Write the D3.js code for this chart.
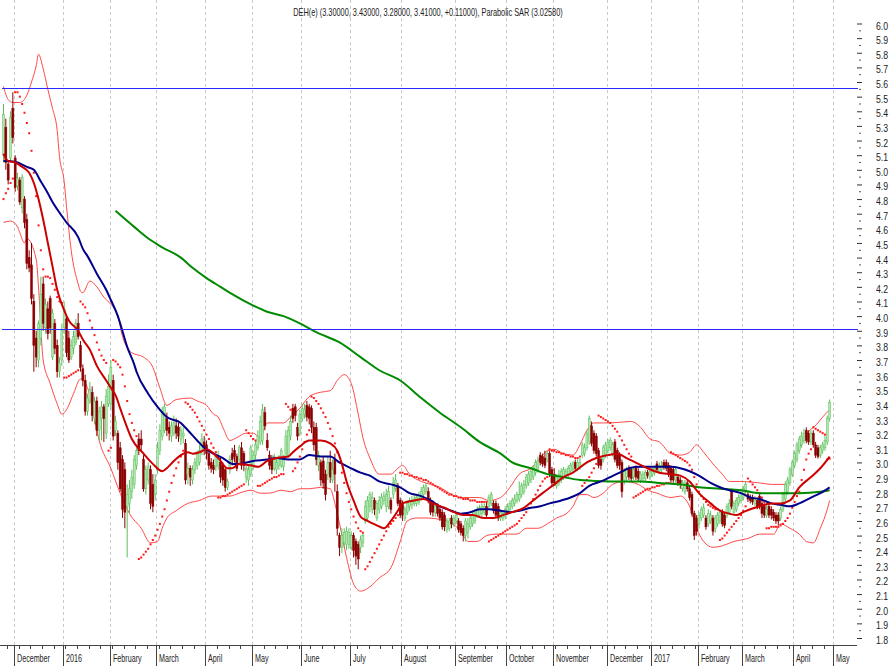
<!DOCTYPE html>
<html><head><meta charset="utf-8">
<script src="https://cdn.jsdelivr.net/npm/d3@7"></script>
<style>
html,body{margin:0;padding:0;background:#fff;}
svg{display:block;}
text{font-family:'Liberation Sans Narrow','Arial Narrow','Liberation Sans',Arial,sans-serif;fill:#222;}
</style></head>
<body>
<svg id="c" width="890" height="666"></svg>
<script>
// ---------- DATA ----------
const title = "DEH(e) (3.30000, 3.43000, 3.28000, 3.41000, +0.11000), Parabolic SAR (3.02580)";
const monthLabels = ["December","2016","February","March","April","May","June","July","August","September","October","November","December","2017","February","March","April","May"];
const monthStart  = [5,26,46,66,87,107,128,149,171,194,216,236,259,278,298,317,339,356];
const yTicks = d3.range(18, 61).map(d => d / 10);
const levels = [5.56, 3.91];

// daily bars: [open, high, low, close]
const ohlc = [
[5.10,5.45,5.05,5.38],[5.29,5.35,5.00,5.05],[5.04,5.06,4.90,4.93],[5.08,5.40,5.05,5.36],[5.42,5.53,5.18,5.22],
[5.08,5.10,4.85,4.88],[4.89,4.98,4.86,4.94],[4.93,4.95,4.76,4.78],[4.74,4.97,4.70,4.95],[4.80,4.82,4.60,4.64],
[4.66,4.70,4.32,4.36],[4.40,4.45,4.30,4.33],[4.35,4.50,4.08,4.12],[4.10,4.15,3.62,3.80],[3.85,3.90,3.65,3.72],
[3.70,3.97,3.65,3.95],[3.85,4.27,3.80,4.15],[4.22,4.27,3.90,3.95],[3.92,4.12,3.88,4.08],[4.05,4.10,3.84,3.88],
[4.12,4.14,3.88,3.92],[3.72,4.05,3.70,4.02],[3.95,3.98,3.74,3.78],[3.80,3.84,3.58,3.62],[3.62,3.72,3.58,3.68],
[3.70,3.95,3.66,3.90],[3.92,4.10,3.88,4.05],[3.98,4.00,3.72,3.75],[3.85,3.90,3.68,3.70],[3.72,3.84,3.70,3.80],
[3.78,3.90,3.74,3.86],[3.82,3.98,3.80,3.95],[3.95,4.02,3.84,3.86],[3.80,3.83,3.62,3.65],[3.64,3.67,3.52,3.56],
[3.56,3.60,3.32,3.35],[3.35,3.47,3.32,3.44],[3.42,3.55,3.40,3.50],[3.48,3.52,3.28,3.32],[3.30,3.45,3.26,3.42],
[3.42,3.45,3.18,3.22],[3.22,3.38,3.15,3.35],[3.30,3.42,3.15,3.38],[3.38,3.40,3.14,3.30],[3.20,3.50,3.16,3.45],
[3.40,3.60,3.38,3.52],[3.40,3.70,3.36,3.65],[3.56,3.60,3.15,3.18],[3.22,3.32,3.18,3.28],[3.20,3.22,2.95,3.00],
[3.10,3.14,2.80,2.82],[3.02,3.05,2.62,2.68],[2.95,3.00,2.55,2.66],[2.70,2.85,2.35,2.78],[2.72,2.88,2.65,2.82],
[2.80,2.95,2.75,2.90],[2.85,3.05,2.82,3.02],[2.98,3.12,2.95,3.08],[3.16,3.20,3.05,3.08],[3.16,3.22,3.08,3.12],
[3.02,3.05,2.80,2.82],[2.82,2.98,2.78,2.95],[2.88,3.00,2.85,2.97],[2.95,2.98,2.68,2.72],[2.85,2.92,2.66,2.70],
[2.78,2.92,2.74,2.88],[2.95,3.14,2.92,3.10],[3.08,3.26,3.05,3.22],[3.18,3.38,3.15,3.35],[3.22,3.40,3.20,3.38],
[3.30,3.34,3.18,3.22],[3.24,3.28,3.15,3.20],[3.18,3.28,3.14,3.25],[3.20,3.32,3.18,3.27],[3.25,3.30,3.16,3.20],
[3.24,3.27,3.14,3.18],[3.16,3.25,3.12,3.22],[3.18,3.24,3.13,3.20],[3.13,3.16,2.85,2.88],[2.92,3.00,2.85,2.96],
[2.96,2.98,2.84,2.90],[2.88,2.98,2.85,2.95],[2.95,3.03,2.92,3.00],[2.98,3.08,2.95,3.06],[3.00,3.12,2.98,3.08],
[3.08,3.20,3.05,3.16],[3.14,3.18,3.05,3.10],[3.12,3.15,3.02,3.06],[3.06,3.08,2.95,2.98],[3.00,3.03,2.93,2.96],
[2.98,3.02,2.92,2.95],[2.97,3.06,2.94,3.04],[2.98,3.08,2.95,3.05],[3.00,3.03,2.86,2.90],[2.98,3.00,2.84,2.88],
[2.95,2.97,2.80,2.83],[2.83,2.89,2.81,2.87],[2.95,3.05,2.92,3.02],[3.06,3.10,2.98,3.02],[3.08,3.12,3.00,3.04],
[3.04,3.06,2.94,2.96],[3.02,3.12,2.98,3.10],[3.10,3.14,2.95,2.98],[3.06,3.08,2.94,2.98],[2.90,2.98,2.86,2.96],
[2.88,2.98,2.84,2.95],[2.92,3.12,2.90,3.10],[2.98,3.08,2.95,3.05],[3.05,3.15,3.02,3.12],[3.10,3.22,3.08,3.18],
[3.14,3.32,3.12,3.28],[3.15,3.40,3.12,3.36],[3.34,3.38,3.22,3.25],[3.15,3.20,3.08,3.10],[3.05,3.08,2.95,2.98],
[3.03,3.05,2.92,2.95],[2.96,3.06,2.94,3.04],[2.95,3.03,2.92,3.00],[2.98,3.05,2.95,3.03],[2.98,3.10,2.96,3.08],
[2.97,3.05,2.94,3.02],[3.04,3.22,3.02,3.18],[3.05,3.25,3.03,3.22],[3.18,3.32,3.15,3.28],[3.37,3.40,3.27,3.30],
[3.38,3.40,3.28,3.32],[3.24,3.27,3.15,3.18],[3.20,3.36,3.18,3.33],[3.30,3.40,3.28,3.37],[3.33,3.40,3.30,3.36],
[3.39,3.42,3.28,3.31],[3.38,3.40,3.26,3.30],[3.37,3.39,3.20,3.24],[3.24,3.28,3.08,3.12],[3.24,3.27,2.98,3.02],
[2.98,3.08,2.94,3.05],[3.00,3.02,2.84,2.88],[3.01,3.04,2.82,2.86],[2.92,2.95,2.74,2.78],[2.92,3.04,2.88,3.00],
[3.00,3.08,2.86,2.90],[2.88,3.02,2.86,2.95],[3.02,3.06,2.80,2.92],[2.80,2.85,2.50,2.55],[2.50,2.52,2.36,2.42],
[2.42,2.55,2.38,2.50],[2.45,2.55,2.42,2.52],[2.44,2.56,2.40,2.53],[2.44,2.55,2.41,2.52],[2.42,2.53,2.40,2.50],
[2.50,2.52,2.35,2.40],[2.46,2.48,2.30,2.36],[2.44,2.46,2.27,2.34],[2.42,2.50,2.38,2.47],[2.45,2.52,2.42,2.50],
[2.60,2.74,2.58,2.70],[2.62,2.77,2.60,2.74],[2.70,2.80,2.66,2.78],[2.68,2.80,2.65,2.76],[2.74,2.76,2.64,2.68],
[2.62,2.74,2.60,2.72],[2.68,2.77,2.65,2.74],[2.70,2.79,2.68,2.76],[2.74,2.80,2.71,2.77],[2.70,2.82,2.66,2.78],
[2.70,2.84,2.68,2.80],[2.74,2.76,2.65,2.68],[2.78,2.90,2.75,2.86],[2.82,2.92,2.80,2.88],[2.84,2.86,2.70,2.72],
[2.74,2.76,2.62,2.64],[2.72,2.74,2.60,2.64],[2.62,2.70,2.60,2.68],[2.66,2.74,2.64,2.72],[2.70,2.76,2.67,2.74],
[2.71,2.77,2.68,2.74],[2.72,2.78,2.70,2.75],[2.72,2.78,2.70,2.76],[2.73,2.80,2.71,2.77],[2.76,2.83,2.74,2.80],
[2.78,2.85,2.76,2.83],[2.80,2.86,2.78,2.84],[2.80,2.83,2.72,2.74],[2.74,2.76,2.64,2.66],[2.72,2.74,2.63,2.66],
[2.66,2.72,2.63,2.70],[2.70,2.72,2.63,2.65],[2.68,2.70,2.60,2.62],[2.66,2.68,2.54,2.56],[2.64,2.66,2.53,2.56],
[2.54,2.62,2.52,2.60],[2.55,2.62,2.53,2.60],[2.62,2.64,2.55,2.58],[2.58,2.64,2.56,2.62],[2.60,2.66,2.58,2.64],
[2.60,2.62,2.52,2.54],[2.58,2.60,2.50,2.52],[2.55,2.57,2.46,2.50],[2.50,2.62,2.46,2.60],[2.52,2.62,2.48,2.58],
[2.56,2.64,2.54,2.62],[2.58,2.66,2.56,2.64],[2.60,2.68,2.58,2.66],[2.64,2.70,2.62,2.68],[2.64,2.71,2.62,2.69],
[2.65,2.72,2.63,2.70],[2.66,2.72,2.64,2.70],[2.70,2.73,2.62,2.64],[2.70,2.78,2.68,2.76],[2.72,2.80,2.70,2.78],
[2.72,2.74,2.65,2.67],[2.72,2.74,2.62,2.64],[2.70,2.72,2.60,2.62],[2.62,2.68,2.60,2.66],[2.62,2.67,2.60,2.65],
[2.63,2.70,2.61,2.68],[2.66,2.72,2.64,2.70],[2.68,2.74,2.66,2.72],[2.70,2.76,2.68,2.74],[2.72,2.78,2.70,2.75],
[2.74,2.80,2.72,2.78],[2.75,2.87,2.73,2.78],[2.78,2.86,2.76,2.84],[2.80,2.88,2.78,2.85],[2.84,2.92,2.82,2.90],
[2.86,2.94,2.84,2.92],[2.88,2.96,2.86,2.94],[2.90,2.98,2.88,2.96],[2.93,3.02,2.91,3.00],[2.95,3.04,2.93,3.01],
[3.05,3.07,2.98,3.00],[3.04,3.06,2.97,2.99],[3.03,3.08,2.96,2.98],[3.02,3.08,3.00,3.06],[3.06,3.08,2.90,2.92],
[2.95,2.97,2.84,2.86],[2.92,2.96,2.84,2.86],[2.84,2.92,2.82,2.90],[2.86,2.95,2.84,2.92],[2.88,2.96,2.86,2.94],
[2.90,2.97,2.88,2.95],[2.91,2.96,2.89,2.94],[2.92,2.98,2.90,2.96],[2.94,3.00,2.92,2.98],[2.95,3.01,2.93,2.99],
[3.00,3.02,2.94,2.96],[2.96,3.02,2.94,3.00],[2.97,3.03,2.95,3.00],[3.05,3.14,3.03,3.12],[3.06,3.13,3.04,3.10],
[3.10,3.22,3.08,3.20],[3.14,3.32,3.12,3.30],[3.25,3.28,3.11,3.13],[3.20,3.22,3.06,3.08],[3.18,3.20,3.04,3.06],
[3.08,3.10,2.96,2.98],[3.02,3.04,2.95,2.98],[3.02,3.12,3.00,3.10],[3.05,3.14,3.03,3.12],[3.08,3.16,3.06,3.14],
[3.10,3.17,3.08,3.15],[3.06,3.14,3.04,3.12],[3.14,3.16,3.00,3.02],[3.08,3.10,2.96,2.98],[3.05,3.07,2.95,2.98],
[3.00,3.02,2.76,2.80],[2.88,2.96,2.85,2.94],[2.90,2.97,2.87,2.95],[2.96,2.98,2.88,2.90],[2.95,2.97,2.87,2.89],
[2.90,2.97,2.88,2.95],[2.96,2.98,2.88,2.90],[2.94,2.96,2.87,2.89],[2.88,2.94,2.86,2.92],[2.89,2.94,2.87,2.92],
[2.89,2.95,2.87,2.93],[2.93,2.95,2.89,2.91],[2.90,2.96,2.88,2.94],[2.92,2.97,2.90,2.95],[2.93,2.98,2.91,2.96],
[2.99,3.01,2.93,2.95],[2.94,3.00,2.92,2.98],[2.95,3.01,2.93,2.98],[3.00,3.02,2.95,2.97],[3.00,3.02,2.94,2.96],
[2.98,3.00,2.90,2.92],[2.96,2.98,2.86,2.88],[2.95,2.97,2.86,2.88],[2.88,2.97,2.86,2.95],[2.90,2.92,2.84,2.86],
[2.88,2.90,2.82,2.85],[2.82,2.88,2.80,2.86],[2.80,2.88,2.78,2.86],[2.86,2.88,2.80,2.82],[2.82,2.84,2.74,2.76],
[2.78,2.80,2.63,2.65],[2.65,2.67,2.47,2.50],[2.62,2.64,2.50,2.53],[2.58,2.66,2.55,2.64],[2.62,2.70,2.60,2.68],
[2.64,2.72,2.62,2.69],[2.62,2.64,2.54,2.56],[2.58,2.68,2.56,2.65],[2.60,2.67,2.58,2.64],[2.62,2.64,2.50,2.53],
[2.55,2.64,2.52,2.62],[2.58,2.66,2.56,2.64],[2.60,2.68,2.58,2.66],[2.66,2.68,2.56,2.58],[2.64,2.66,2.55,2.57],
[2.64,2.72,2.62,2.70],[2.66,2.75,2.64,2.72],[2.80,2.82,2.68,2.70],[2.66,2.74,2.64,2.72],[2.68,2.76,2.66,2.74],
[2.72,2.78,2.70,2.76],[2.74,2.82,2.72,2.79],[2.76,2.84,2.74,2.82],[2.80,2.87,2.78,2.85],[2.78,2.80,2.73,2.75],
[2.76,2.78,2.72,2.74],[2.76,2.78,2.71,2.73],[2.72,2.77,2.70,2.75],[2.74,2.76,2.68,2.70],[2.77,2.79,2.68,2.70],
[2.72,2.74,2.62,2.65],[2.70,2.72,2.62,2.64],[2.64,2.74,2.62,2.68],[2.70,2.72,2.62,2.64],[2.68,2.70,2.61,2.64],
[2.66,2.68,2.60,2.62],[2.64,2.66,2.58,2.60],[2.64,2.66,2.57,2.60],[2.62,2.70,2.60,2.68],[2.68,2.80,2.66,2.78],
[2.75,2.87,2.73,2.85],[2.80,2.90,2.78,2.88],[2.86,2.97,2.84,2.95],[2.92,3.02,2.90,3.00],[2.98,3.08,2.96,3.06],
[3.02,3.14,3.00,3.12],[3.08,3.18,3.06,3.16],[3.12,3.21,3.10,3.18],[3.15,3.23,3.13,3.20],[3.22,3.24,3.13,3.15],
[3.20,3.22,3.12,3.14],[3.14,3.22,3.12,3.20],[3.20,3.22,3.10,3.12],[3.12,3.14,3.03,3.05],[3.10,3.12,3.026,3.04],
[3.05,3.12,3.03,3.10],[3.08,3.14,3.06,3.12],[3.10,3.18,3.08,3.15],[3.14,3.32,3.12,3.30],[3.30,3.43,3.28,3.41]
];

// parabolic SAR: [first bar index, values...]
const sarSegments = [
[0,  [4.80,4.84,4.87,4.91,4.94]],
[5,  [5.53,5.53,5.50,5.45,5.39,5.32,5.25,5.13,4.98,4.82,4.62,4.45,4.32,4.27,4.27,4.26,4.22,4.18,4.13,4.10,4.09]],
[26, [3.58,3.58,3.59,3.60,3.61,3.62,3.63]],
[33, [4.10,4.08,4.06,4.02,3.97,3.92,3.87,3.82,3.77,3.73,3.70,3.68]],
[45, [3.08,3.10]],
[47, [3.70,3.69,3.67,3.65,3.60,3.52,3.42,3.33,3.27,3.22,3.18]],
[58, [2.34,2.35,2.37,2.39,2.41,2.44,2.47,2.50,2.54,2.58,2.63,2.68,2.74,2.80,2.86,2.91,2.96,3.00,3.04,3.08]],
[78, [3.41,3.40,3.38,3.36,3.34,3.31,3.28,3.25,3.22,3.19,3.16,3.13,3.10,3.07]],
[92, [2.76,2.76,2.77,2.77,2.78,2.79,2.80,2.81,2.82,2.83,2.84,2.85]],
[104,[3.22,3.20,3.18,3.16,3.15]],
[109,[2.84,2.84,2.85,2.86,2.87,2.88,2.89,2.90,2.90,2.91,2.92,2.92]],
[121,[3.40,3.38,3.36]],
[124,[2.94,2.96,3.00,3.04,3.09,3.14,3.19,3.22]],
[132,[3.45,3.44,3.42,3.40,3.37,3.34,3.31,3.27,3.23,3.18,3.13,3.07,3.00,2.93,2.86,2.79,2.73,2.68,2.63,2.59,2.55,2.53,2.52]],
[155,[2.27,2.29,2.32,2.35,2.38,2.41,2.44,2.47,2.50,2.53,2.56,2.58,2.60,2.62,2.64]],
[170,[2.93,2.93,2.92,2.92,2.91,2.91,2.90,2.90,2.89,2.89,2.88,2.88,2.87,2.86,2.85,2.84,2.83,2.82,2.81,2.80,2.79,2.78,2.78,2.77,2.77,2.76,2.76,2.75,2.75,2.75,2.74,2.74,2.74,2.73,2.73,2.73,2.73,2.73]],
[208,[2.46,2.47,2.48,2.49,2.50,2.51,2.52,2.53,2.54,2.55,2.56,2.57,2.58]],
[221,[2.60,2.62,2.64,2.66,2.69,2.72,2.75,2.78,2.81,2.84,2.87,2.89,2.90]],
[234,[3.09,3.08,3.08,3.07,3.07,3.06,3.06,3.05,3.05,3.04,3.04,3.03,3.03,3.04]],
[248,[2.84,2.86,2.88,2.90,2.93,2.96,2.99]],
[255,[3.32,3.31,3.30,3.29,3.28,3.27,3.25,3.23,3.21,3.18,3.15,3.12,3.09,3.06,3.04]],
[270,[2.76,2.77,2.78,2.79,2.80,2.81,2.82,2.82,2.83,2.83,2.84,2.84,2.85,2.85,2.86,2.86]],
[286,[3.07,3.06,3.05,3.04,3.03,3.02,3.01,3.00,2.98,2.95,2.90,2.85,2.80,2.77,2.75,2.73,2.71,2.70,2.69,2.68,2.68]],
[307,[2.47,2.48,2.50,2.52,2.54,2.56,2.58,2.60,2.62,2.64,2.67,2.70]],
[319,[2.89,2.87,2.85,2.83,2.81,2.79,2.76,2.73]],
[327,[2.55,2.55,2.56,2.56,2.56,2.56,2.57,2.58,2.60,2.62,2.65,2.69,2.73,2.77,2.80,2.88,2.95,3.02,3.06,3.09]],
[347,[3.24,3.23,3.22,3.21,3.20,3.19]],
[353,[3.02,3.026]]
];

// indicator lines: [bar index, value]
const redMA = [[0,5.11],[2,5.06],[5,5.05],[8,5.02],[11,4.98],[13,4.91],[15,4.80],[17,4.66],[19,4.50],[21,4.34],[23,4.18],[26,4.04],[28,3.97],[32,3.90],[34,3.84],[37,3.77],[40,3.66],[44,3.56],[46,3.51],[48,3.46],[50,3.37],[52,3.28],[55,3.16],[60,3.06],[64,2.99],[68,2.94],[70,2.96],[73,3.01],[76,3.05],[79,3.07],[81,3.06],[84,3.07],[87,3.09],[92,3.03],[96,2.96],[98,2.96],[101,2.99],[106,2.98],[109,2.97],[113,3.01],[117,3.03],[122,3.04],[124,3.07],[127,3.11],[131,3.15],[136,3.15],[140,3.13],[143,3.08],[145,2.99],[147,2.87],[150,2.74],[153,2.63],[156,2.60],[160,2.57],[163,2.55],[166,2.60],[169,2.67],[171,2.72],[176,2.74],[180,2.75],[184,2.72],[189,2.69],[193,2.66],[197,2.64],[201,2.64],[206,2.62],[210,2.62],[214,2.64],[218,2.66],[223,2.69],[227,2.74],[231,2.79],[236,2.85],[240,2.90],[244,2.93],[250,3.00],[254,3.03],[259,3.05],[263,3.06],[267,3.03],[272,2.99],[276,2.96],[281,2.93],[286,2.92],[290,2.91],[294,2.87],[298,2.79],[303,2.72],[307,2.67],[311,2.65],[314,2.64],[317,2.66],[320,2.68],[324,2.70],[329,2.72],[333,2.72],[337,2.74],[341,2.83],[346,2.90],[350,2.96],[354,3.04]];
const blueMA = [[0,5.06],[2,5.06],[6,5.05],[10,5.02],[13,5.00],[16,4.92],[19,4.84],[21,4.78],[23,4.73],[27,4.64],[32,4.54],[34,4.46],[36,4.41],[40,4.29],[44,4.18],[46,4.11],[49,4.00],[50,3.95],[53,3.79],[56,3.67],[57,3.62],[62,3.47],[66,3.38],[70,3.31],[76,3.27],[79,3.22],[83,3.15],[86,3.10],[90,3.06],[94,3.03],[98,2.99],[101,2.99],[107,3.01],[113,3.02],[117,3.03],[122,3.02],[127,3.02],[131,3.05],[136,3.04],[140,3.04],[144,3.00],[149,2.96],[153,2.93],[157,2.91],[161,2.87],[166,2.85],[170,2.83],[174,2.79],[179,2.77],[183,2.74],[187,2.70],[192,2.67],[196,2.65],[200,2.66],[204,2.68],[208,2.68],[213,2.67],[217,2.66],[221,2.67],[226,2.69],[230,2.70],[234,2.72],[239,2.74],[243,2.76],[247,2.79],[251,2.84],[256,2.87],[260,2.90],[264,2.93],[268,2.96],[273,2.97],[277,2.97],[281,2.97],[286,2.97],[290,2.96],[294,2.94],[298,2.91],[303,2.86],[307,2.83],[311,2.81],[316,2.79],[320,2.76],[324,2.75],[329,2.72],[333,2.71],[337,2.70],[341,2.72],[346,2.76],[350,2.79],[354,2.83]];
const greenMA = [[48,4.72],[56,4.61],[63,4.52],[68,4.47],[76,4.40],[81,4.33],[87,4.26],[93,4.20],[98,4.15],[106,4.08],[113,4.03],[120,4.00],[127,3.95],[134,3.89],[144,3.82],[153,3.72],[161,3.63],[170,3.56],[179,3.44],[187,3.34],[196,3.24],[204,3.14],[213,3.06],[218,3.00],[226,2.96],[233,2.92],[240,2.90],[247,2.88],[260,2.87],[273,2.87],[281,2.86],[290,2.85],[298,2.83],[307,2.82],[316,2.81],[324,2.79],[333,2.79],[341,2.79],[350,2.80],[354,2.81]];
const bbUpper = [[0,5.57],[2,5.48],[4,5.46],[7,5.46],[10,5.51],[12,5.60],[14,5.71],[15,5.79],[17,5.69],[19,5.55],[21,5.42],[23,5.27],[24,5.09],[26,4.92],[27,4.75],[29,4.45],[32,4.22],[33,4.17],[34,4.16],[37,4.24],[40,4.20],[43,4.13],[46,4.08],[49,4.00],[51,3.86],[55,3.75],[60,3.72],[64,3.65],[67,3.51],[70,3.39],[74,3.43],[80,3.44],[83,3.42],[87,3.39],[90,3.33],[92,3.31],[94,3.24],[97,3.15],[100,3.17],[104,3.20],[107,3.20],[110,3.17],[113,3.27],[120,3.27],[123,3.31],[127,3.37],[131,3.45],[136,3.48],[140,3.49],[143,3.56],[146,3.60],[149,3.54],[152,3.33],[154,3.17],[157,3.03],[161,2.92],[166,2.92],[169,2.96],[171,2.98],[174,2.92],[179,2.87],[183,2.85],[187,2.83],[191,2.79],[196,2.76],[200,2.76],[204,2.76],[208,2.74],[213,2.76],[217,2.83],[221,2.92],[226,2.96],[230,3.03],[233,3.08],[236,3.09],[240,3.06],[244,3.05],[247,3.12],[250,3.22],[253,3.27],[260,3.27],[269,3.28],[273,3.24],[277,3.16],[281,3.14],[286,3.06],[290,3.05],[294,3.07],[297,3.12],[300,3.07],[304,2.99],[308,2.92],[311,2.87],[316,2.87],[324,2.86],[329,2.85],[336,2.85],[338,2.96],[341,3.10],[344,3.19],[349,3.27],[351,3.31],[354,3.36]];
const bbLower = [[0,4.64],[3,4.65],[6,4.61],[7,4.57],[9,4.50],[10,4.53],[14,4.39],[15,4.20],[17,3.70],[20,3.54],[23,3.40],[25,3.33],[27,3.36],[30,3.47],[33,3.57],[36,3.51],[38,3.38],[41,3.15],[46,2.96],[50,2.79],[54,2.65],[59,2.55],[63,2.45],[66,2.46],[68,2.55],[70,2.62],[74,2.67],[79,2.72],[84,2.74],[89,2.77],[93,2.77],[97,2.77],[101,2.79],[106,2.81],[110,2.79],[114,2.79],[119,2.81],[123,2.80],[127,2.82],[131,2.82],[136,2.83],[140,2.82],[142,2.72],[144,2.58],[147,2.35],[150,2.17],[153,2.12],[157,2.15],[161,2.21],[166,2.28],[170,2.46],[173,2.60],[177,2.62],[182,2.62],[187,2.61],[191,2.59],[196,2.53],[199,2.46],[203,2.46],[207,2.50],[211,2.51],[216,2.51],[220,2.51],[224,2.55],[229,2.55],[233,2.58],[237,2.62],[242,2.66],[244,2.70],[247,2.78],[250,2.78],[253,2.76],[257,2.79],[261,2.85],[266,2.87],[272,2.85],[276,2.81],[280,2.79],[286,2.76],[290,2.77],[294,2.70],[297,2.55],[300,2.46],[304,2.42],[308,2.43],[313,2.46],[319,2.48],[324,2.51],[330,2.51],[333,2.58],[337,2.55],[341,2.51],[344,2.46],[347,2.45],[350,2.55],[353,2.68],[354,2.74]];

// ---------- DRAW ----------
const W = 890, H = 666;
const svg = d3.select("#c");
const x = d3.scaleLinear().domain([0, 356]).range([3.5, 834.3]);
const y = d3.scaleLinear().domain([1.8, 6.0]).range([638, 23.5]);
const axisY = 645;

// vertical dashed grid at month starts
svg.append("g").selectAll("line").data(monthStart).join("line")
  .attr("x1", d => Math.round(x(d - 0.5)) + 0.5).attr("x2", d => Math.round(x(d - 0.5)) + 0.5)
  .attr("y1", 0).attr("y2", axisY)
  .attr("stroke", "#c8c8c8").attr("stroke-width", 1).attr("stroke-dasharray", "3,3");

// Bollinger bands
const lineGen = d3.line().x(d => x(d[0])).y(d => y(d[1])).curve(d3.curveMonotoneX);
svg.append("path").datum(bbUpper).attr("d", lineGen).attr("fill", "none").attr("stroke", "#ff4a4a").attr("stroke-width", 1);
svg.append("path").datum(bbLower).attr("d", lineGen).attr("fill", "none").attr("stroke", "#ff4a4a").attr("stroke-width", 1);

// candles
const bars = ohlc.map((d, i) => ({i, o: d[0], h: d[1], l: d[2], c: d[3]}));
const cg = svg.append("g");
cg.selectAll("line").data(bars).join("line")
  .attr("x1", d => x(d.i)).attr("x2", d => x(d.i))
  .attr("y1", d => y(d.h)).attr("y2", d => y(d.l))
  .attr("stroke", d => d.c >= d.o ? "#5cc05c" : "#8b0000").attr("stroke-width", 1);
cg.selectAll("rect").data(bars).join("rect")
  .attr("x", d => x(d.i) - 1).attr("width", 2)
  .attr("y", d => y(Math.max(d.o, d.c)))
  .attr("height", d => Math.max(1, Math.abs(y(d.o) - y(d.c))))
  .attr("fill", d => d.c >= d.o ? "#b4e6b4" : "#8b0000")
  .attr("stroke", d => d.c >= d.o ? "#5cc05c" : "#8b0000").attr("stroke-width", 0.5);

// SAR dots
const sarPts = [];
sarSegments.forEach(([s, vals]) => vals.forEach((v, k) => sarPts.push([s + k, v])));
svg.append("g").selectAll("rect").data(sarPts).join("rect")
  .attr("x", d => x(d[0]) - 1).attr("y", d => y(d[1]) - 1)
  .attr("width", 2).attr("height", 2).attr("fill", "#ff1a1a");

// moving averages
svg.append("path").datum(greenMA).attr("d", lineGen).attr("fill", "none").attr("stroke", "#008a00").attr("stroke-width", 2);
svg.append("path").datum(blueMA).attr("d", lineGen).attr("fill", "none").attr("stroke", "#00008b").attr("stroke-width", 2);
svg.append("path").datum(redMA).attr("d", lineGen).attr("fill", "none").attr("stroke", "#cc0000").attr("stroke-width", 2);

// horizontal level lines
svg.append("g").selectAll("line").data(levels).join("line")
  .attr("x1", 2).attr("x2", 858)
  .attr("y1", d => Math.round(y(d)) + 0.5).attr("y2", d => Math.round(y(d)) + 0.5)
  .attr("stroke", "#2a2aff").attr("stroke-width", 1);

// narrow text helper: places a horizontally squeezed label (real narrow glyphs, true bbox)
function narrowText(parent, tx, ty, str, size, sx, anchor) {
  const g = parent.append("g").attr("transform", `translate(${tx},${ty}) scale(${sx},1)`);
  return g.append("text").attr("x", 0).attr("y", 0).attr("font-size", size)
    .attr("text-anchor", anchor || "start").text(str);
}

// right value axis (ticks via d3 axis, labels squeezed)
const yAxis = d3.axisRight(y).tickValues(yTicks).tickSize(5).tickFormat("");
const ya = svg.append("g").attr("transform", "translate(857,0)").call(yAxis);
ya.select(".domain").remove();
ya.selectAll(".tick line").attr("stroke", "#333");
const yl = svg.append("g");
yTicks.forEach(v => narrowText(yl, 876, y(v) + 6, d3.format(".1f")(v), 11.5, 0.76));
// half-step minor ticks
svg.append("g").selectAll("line").data(yTicks.slice(0, -1)).join("line")
  .attr("x1", 859).attr("x2", 861)
  .attr("y1", d => y(d + 0.05)).attr("y2", d => y(d + 0.05))
  .attr("stroke", "#555").attr("stroke-width", 1);

// bottom time axis
svg.append("line").attr("x1", 0).attr("x2", 857).attr("y1", axisY + 0.5).attr("y2", axisY + 0.5)
  .attr("stroke", "#444").attr("stroke-width", 1);
const weekIdx = d3.range(2, 357, 5);
svg.append("g").selectAll("line").data(weekIdx).join("line")
  .attr("x1", d => Math.round(x(d - 0.5)) + 0.5).attr("x2", d => Math.round(x(d - 0.5)) + 0.5)
  .attr("y1", axisY).attr("y2", axisY + 4).attr("stroke", "#444");
svg.append("g").selectAll("line").data(monthStart).join("line")
  .attr("x1", d => Math.round(x(d - 0.5)) + 0.5).attr("x2", d => Math.round(x(d - 0.5)) + 0.5)
  .attr("y1", axisY).attr("y2", H).attr("stroke", "#444");
// measure "December" to find the squeeze factor
const probe = svg.append("text").attr("font-size", 11.5).text(monthLabels[0]);
const decW = probe.node().getComputedTextLength();
probe.remove();
const msx = Math.min(1, 33 / decW);
const ml = svg.append("g");
monthLabels.forEach((m, k) => narrowText(ml, Math.round(x(monthStart[k] - 0.5)) + 3, 662, m, 11.5, msx));

// title
const tprobe = svg.append("text").attr("font-size", 10.5).text(title);
const tW = tprobe.node().getComputedTextLength();
tprobe.remove();
narrowText(svg, 428, 16, title, 10.5, Math.min(1, 270 / tW), "middle");
</script>
</body></html>
